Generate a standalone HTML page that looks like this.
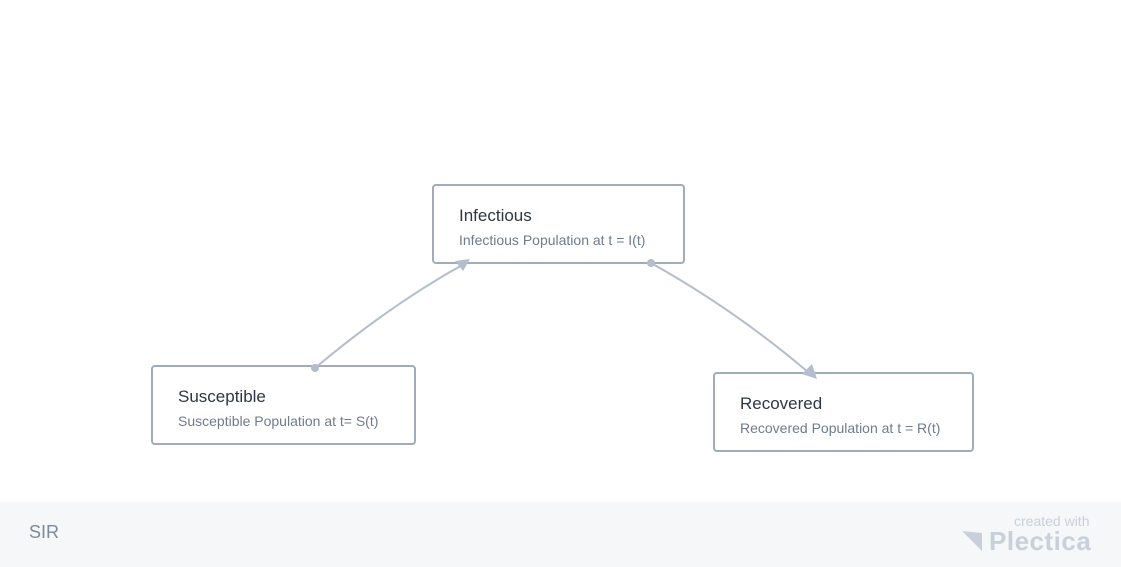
<!DOCTYPE html>
<html><head><style>
body{margin:0;width:1121px;height:567px;position:relative;background:#fff;font-family:"Liberation Sans",sans-serif;overflow:hidden}
.n{position:absolute;box-sizing:border-box;border:2px solid #a0abbb;border-radius:4px;background:#fff}
.t{position:absolute;left:25px;top:20px;font-size:17px;color:#2e3546;white-space:nowrap}
.s{position:absolute;left:25px;top:46px;font-size:14px;color:#6f7b8e;white-space:nowrap}
.foot{position:absolute;left:0;top:502px;width:1121px;height:65px;background:#f5f7f9}
</style></head><body>
<div class="n" style="left:432px;top:184px;width:253px;height:80px"><div class="t">Infectious</div><div class="s">Infectious Population at t = I(t)</div></div>
<div class="n" style="left:151px;top:365px;width:265px;height:80px"><div class="t">Susceptible</div><div class="s">Susceptible Population at t= S(t)</div></div>
<div class="n" style="left:713px;top:372px;width:261px;height:80px"><div class="t">Recovered</div><div class="s">Recovered Population at t = R(t)</div></div>
<svg width="1121" height="567" style="position:absolute;left:0;top:0">
<path d="M315 368 Q390 305 464 264" stroke="#b3bdcb" stroke-width="2" fill="none"/>
<polygon points="470,259 455,261 463,271" fill="#b3bdcb"/>
<circle cx="315" cy="368" r="4" fill="#b3bdcb"/>
<path d="M651 263 Q735 310 808 372" stroke="#b3bdcb" stroke-width="2" fill="none"/>
<polygon points="817,379 802,374 812,364" fill="#b3bdcb"/>
<circle cx="651" cy="263" r="4" fill="#b3bdcb"/>
</svg>
<div class="foot">
<div style="position:absolute;left:29px;top:20px;font-size:18px;color:#7d8a9c">SIR</div>
<div style="position:absolute;left:1014px;top:11px;font-size:14px;color:#c8d1da">created with</div>
<svg style="position:absolute;left:962px;top:29px" width="22" height="20"><polygon points="0,0 20,2 20,20" fill="#c8d1da"/></svg>
<div style="position:absolute;left:989px;top:24px;font-size:26px;font-weight:bold;letter-spacing:0.5px;color:#c8d1da">Plectica</div>
</div>
</body></html>
